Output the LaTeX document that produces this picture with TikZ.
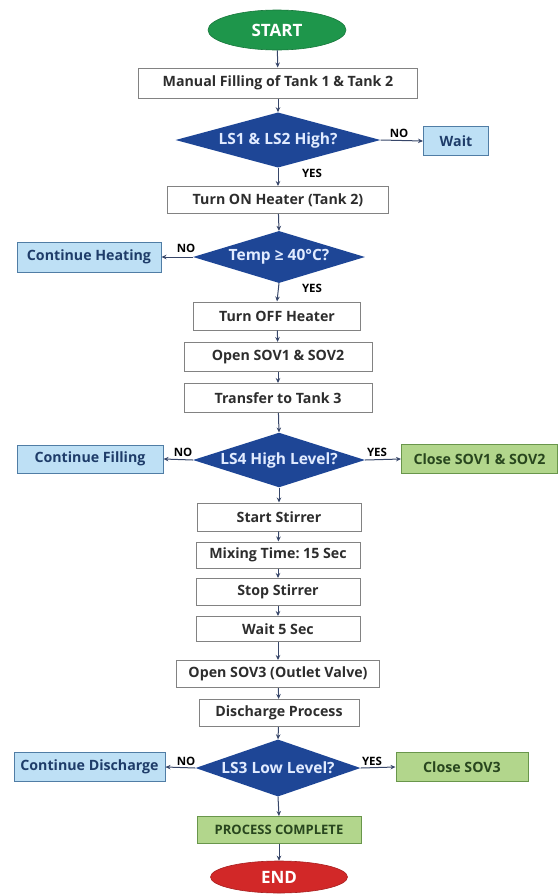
\documentclass[tikz,border=0pt]{standalone}
\usepackage{fontspec}
\setmainfont{Open Sans}
\frenchspacing
\usetikzlibrary{shapes.geometric,arrows.meta}
\definecolor{dia}{RGB}{30,70,150}
\definecolor{diatext}{RGB}{225,235,255}
\definecolor{lbfill}{RGB}{190,224,245}
\definecolor{lbdraw}{RGB}{80,125,165}
\definecolor{lbtext}{RGB}{30,60,105}
\definecolor{grfill}{RGB}{178,214,140}
\definecolor{grdraw}{RGB}{105,150,75}
\definecolor{grtext}{RGB}{40,70,30}
\definecolor{wbdraw}{RGB}{130,130,130}
\definecolor{wbtext}{RGB}{45,45,45}
\definecolor{startg}{RGB}{30,150,75}
\definecolor{endr}{RGB}{210,40,40}
\definecolor{arr}{RGB}{55,70,105}
\begin{document}
\begin{tikzpicture}[x=1pt,y=-1pt,
  every node/.style={font=\bfseries\fontsize{14.2}{16}\selectfont, inner sep=0pt},
  wbox/.style={rectangle, draw=wbdraw, line width=1pt, fill=white, text=wbtext},
  lbbox/.style={rectangle, draw=lbdraw, line width=1pt, fill=lbfill, text=lbtext},
  grbox/.style={rectangle, draw=grdraw, line width=1pt, fill=grfill, text=grtext},
  decis/.style={diamond, aspect=3, fill=dia, text=diatext, font=\bfseries\fontsize{15.5}{17}\selectfont},
  term/.style={ellipse, text=white, font=\bfseries\fontsize{17}{19}\selectfont},
  lab/.style={font=\bfseries\fontsize{11.5}{13}\selectfont, text=black},
  flow/.style={draw=arr, line width=1pt, -{Stealth[length=5pt,width=4.5pt]}}
]
\useasboundingbox (0,0) rectangle (560,895);
\node[term, fill=startg, draw=startg!80!black, line width=0.6pt, minimum width=138, minimum height=40] (start) at (277,30) {START};
\node[wbox, minimum width=279, minimum height=30] (manual) at (278,83) {Manual Filling of Tank 1 \& Tank 2};
\node[decis, minimum width=205, minimum height=54] (ls12) at (278,140) {LS1 \& LS2 High?};
\node[lbbox, minimum width=65, minimum height=29] (wait) at (456,141) {Wait};
\node[wbox, minimum width=221, minimum height=27] (heaton) at (278,200) {Turn ON Heater (Tank 2)};
\node[decis, minimum width=172, minimum height=52] (temp) at (279,257) {Temp ≥ 40°C?};
\node[lbbox, minimum width=144, minimum height=30] (contheat) at (89,257) {Continue Heating};
\node[wbox, minimum width=167, minimum height=28] (heatoff) at (277,316) {Turn OFF Heater};
\node[wbox, minimum width=188, minimum height=29] (opensov) at (278,357) {Open SOV1 \& SOV2};
\node[wbox, minimum width=188, minimum height=29] (transfer) at (278,398) {Transfer to Tank 3};
\node[decis, minimum width=172, minimum height=54] (ls4) at (279,460) {LS4 High Level?};
\node[lbbox, minimum width=146, minimum height=28] (contfill) at (90,459) {Continue Filling};
\node[grbox, minimum width=156, minimum height=29] (closesov) at (479.5,459) {Close SOV1 \& SOV2};
\node[wbox, minimum width=164, minimum height=28] (startstir) at (279,517) {Start Stirrer};
\node[wbox, minimum width=164, minimum height=26] (mixing) at (278,555) {Mixing Time: 15 Sec};
\node[wbox, minimum width=164, minimum height=27] (stopstir) at (278,592) {Stop Stirrer};
\node[wbox, minimum width=164, minimum height=25] (waitfive) at (278,629) {Wait 5 Sec};
\node[wbox, minimum width=203, minimum height=27] (opensovthree) at (278,674) {Open SOV3 (Outlet Valve)};
\node[wbox, minimum width=160, minimum height=27] (discharge) at (279,713) {Discharge Process};
\node[decis, minimum width=165, minimum height=57] (ls3) at (278,768) {LS3 Low Level?};
\node[lbbox, minimum width=151, minimum height=29] (contdis) at (89.5,767) {Continue Discharge};
\node[grbox, minimum width=132, minimum height=29] (closesovthree) at (462,767) {Close SOV3};
\node[grbox, minimum width=164, minimum height=27, font=\bfseries\fontsize{13}{15}\selectfont] (complete) at (279,830) {PROCESS COMPLETE};
\node[term, fill=endr, draw=endr!80!black, line width=0.6pt, minimum width=137, minimum height=32] (end) at (279,877) {END};

\draw[flow] (start) -- (manual);
\draw[flow] (manual) -- (ls12);
\draw[flow] (ls12.east) -- (wait.west);
\draw[flow] (ls12.south) -- (heaton.north);
\draw[flow] (heaton) -- (temp.north);
\draw[flow] (temp.west) -- (contheat.east);
\draw[flow] (temp.south) -- (heatoff.north);
\draw[flow] (heatoff) -- (opensov);
\draw[flow] (opensov) -- (transfer);
\draw[flow] (transfer) -- (ls4.north);
\draw[flow] (ls4.west) -- (contfill.east);
\draw[flow] (ls4.east) -- (closesov.west);
\draw[flow] (ls4.south) -- (startstir.north);
\draw[flow] (startstir) -- (mixing);
\draw[flow] (mixing) -- (stopstir);
\draw[flow] (stopstir) -- (waitfive);
\draw[flow] (waitfive) -- (opensovthree);
\draw[flow] (opensovthree) -- (discharge);
\draw[flow] (discharge) -- (ls3.north);
\draw[flow] (ls3.west) -- (contdis.east);
\draw[flow] (ls3.east) -- (closesovthree.west);
\draw[flow] (ls3.south) -- (complete.north);
\draw[flow] (complete) -- (end);

\node[lab] (n1) at (399,133) {NO};
\node[lab] (y1) at (312,173) {YES};
\node[lab] (n2) at (186,248) {NO};
\node[lab] (y2) at (312,288) {YES};
\node[lab] (n3) at (183,452) {NO};
\node[lab] (y3) at (377,452) {YES};
\node[lab] (n4) at (186,761) {NO};
\node[lab] (y4) at (372,761) {YES};
\end{tikzpicture}
\end{document}
